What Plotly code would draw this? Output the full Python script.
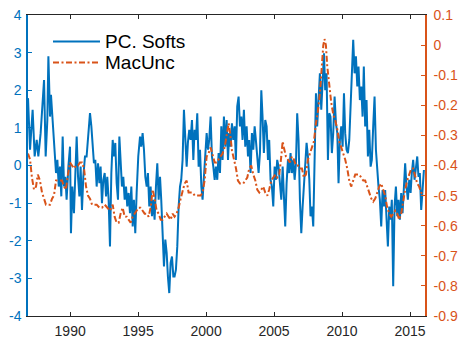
import plotly.graph_objects as go

# ---------------- data ----------------
pc_years = [1986.90, 1987.05, 1987.24, 1987.39, 1987.54, 1987.66, 1987.83, 1987.98, 1988.08, 1988.20,
            1988.32, 1988.40, 1988.52, 1988.59, 1988.69, 1988.76, 1988.86, 1988.96, 1989.06, 1989.16,
            1989.25, 1989.35, 1989.45, 1989.55, 1989.65, 1989.74, 1989.87, 1989.99, 1990.06, 1990.16,
            1990.28, 1990.38, 1990.48, 1990.58, 1990.68, 1990.77, 1990.87, 1990.97, 1991.09, 1991.21,
            1991.34, 1991.46, 1991.56, 1991.66, 1991.75, 1991.85, 1991.95, 1992.05, 1992.15, 1992.24,
            1992.34, 1992.44, 1992.54, 1992.64, 1992.73, 1992.83, 1992.93, 1993.03, 1993.13, 1993.22,
            1993.32, 1993.42, 1993.52, 1993.62, 1993.71, 1993.81, 1993.91, 1994.01, 1994.11, 1994.20,
            1994.30, 1994.40, 1994.50, 1994.60, 1994.69, 1994.79, 1994.89, 1995.01, 1995.14, 1995.23,
            1995.33, 1995.43, 1995.53, 1995.63, 1995.72, 1995.82, 1995.92, 1996.02, 1996.12, 1996.21,
            1996.31, 1996.41, 1996.51, 1996.61, 1996.70, 1996.80, 1996.90, 1997.00, 1997.10, 1997.19,
            1997.29, 1997.39, 1997.49, 1997.59, 1997.68, 1997.78, 1997.88, 1997.98, 1998.08, 1998.17,
            1998.27, 1998.37, 1998.47, 1998.57, 1998.66, 1998.76, 1998.86, 1998.96, 1999.06, 1999.15,
            1999.25, 1999.35, 1999.45, 1999.55, 1999.65, 1999.74, 1999.84, 1999.94, 2000.04, 2000.14,
            2000.23, 2000.33, 2000.43, 2000.53, 2000.63, 2000.72, 2000.82, 2000.92, 2001.02, 2001.12,
            2001.21, 2001.31, 2001.41, 2001.51, 2001.61, 2001.70, 2001.80, 2001.90, 2002.00, 2002.10,
            2002.19, 2002.29, 2002.39, 2002.49, 2002.59, 2002.68, 2002.78, 2002.88, 2002.98, 2003.08,
            2003.17, 2003.27, 2003.37, 2003.47, 2003.57, 2003.66, 2003.76, 2003.86, 2003.96, 2004.06,
            2004.15, 2004.25, 2004.35, 2004.45, 2004.55, 2004.64, 2004.74, 2004.84, 2004.94, 2005.04,
            2005.14, 2005.23, 2005.33, 2005.43, 2005.53, 2005.63, 2005.72, 2005.82, 2005.92, 2006.02,
            2006.12, 2006.21, 2006.31, 2006.41, 2006.51, 2006.61, 2006.70, 2006.80, 2006.90, 2007.00,
            2007.10, 2007.19, 2007.29, 2007.39, 2007.49, 2007.59, 2007.68, 2007.78, 2007.88, 2007.98,
            2008.08, 2008.17, 2008.27, 2008.37, 2008.47, 2008.57, 2008.67, 2008.76, 2008.86, 2008.96,
            2009.06, 2009.15, 2009.25, 2009.35, 2009.45, 2009.55, 2009.65, 2009.74, 2009.84, 2009.94,
            2010.04, 2010.14, 2010.23, 2010.33, 2010.43, 2010.53, 2010.63, 2010.72, 2010.82, 2010.92,
            2011.02, 2011.12, 2011.21, 2011.31, 2011.41, 2011.51, 2011.60, 2011.70, 2011.80, 2011.90,
            2012.00, 2012.10, 2012.19, 2012.29, 2012.39, 2012.49, 2012.59, 2012.68, 2012.78, 2012.88,
            2012.98, 2013.08, 2013.17, 2013.27, 2013.37, 2013.47, 2013.57, 2013.66, 2013.76, 2013.86,
            2013.96, 2014.06, 2014.15, 2014.25, 2014.35, 2014.45, 2014.55, 2014.64, 2014.74, 2014.84,
            2014.94, 2015.04, 2015.13, 2015.23, 2015.33, 2015.43, 2015.53, 2015.62, 2015.72, 2015.82,
            2015.92, 2016.02]
pc_softs = [1.79, 0.42, 1.48, 0.24, 0.68, 0.24, 0.86, 1.74, 2.27, 0.24,
            1.20, 2.90, 1.30, 1.88, 1.30, 0.86, 0.33, -0.20, 0.15, -0.56,
            -0.03, -0.82, 0.77, -0.56, -0.30, -0.91, -0.03, 0.50, -1.80, -0.56,
            -1.27, -0.38, 0.77, -0.30, -0.82, -0.03, -1.18, -0.30, 0.24, 0.24,
            0.86, 1.39, 1.04, 0.33, 0.06, 0.15, -0.56, 0.06, -0.47, -0.03,
            -1.00, -0.38, -0.20, -0.82, -0.30, -0.90, -2.15, -0.20, 0.68, 0.24,
            0.60, -0.47, -0.91, 0.77, -0.03, -0.56, -0.30, -0.91, -0.56, -1.09,
            -0.73, -1.27, -0.56, -1.62, -0.91, -1.80, -0.73, 0.24, 0.77, 0.50,
            0.86, 0.42, -0.30, -0.56, -0.20, -1.09, -0.56, -1.35, -0.91, -1.44,
            -0.56, 0.06, -0.91, -0.30, -0.91, -1.97, -2.68, -1.97, -2.33, -2.95,
            -3.39, -2.59, -2.42, -2.95, -2.95, -2.77, -2.15, -1.09, -0.56, -0.38,
            0.15, 1.48, 0.68, -0.03, 0.60, 0.95, 0.68, 1.21, 0.15, 0.95,
            0.68, 1.39, -0.03, 0.42, -0.56, -0.91, -0.30, 0.33, 0.86, 0.42,
            0.68, 1.30, 0.24, -0.03, -0.38, -0.03, -0.38, 0.33, -0.20, 1.04,
            0.15, 1.30, 0.50, 1.21, 0.15, 0.86, 0.50, 1.12, 0.68, 1.04,
            0.15, 1.57, 1.83, 1.04, 1.30, 0.68, 1.48, 0.50, 1.04, 0.24,
            0.68, -0.20, 0.86, 0.42, 1.04, 0.68, 0.24, -0.20, 0.33, 2.00,
            1.30, 0.33, 1.21, 1.04, 0.15, 0.68, -0.38, -0.56, -1.09, -0.03,
            -0.38, 0.15, -0.03, -0.56, -0.91, -0.03, -0.65, -1.62, -0.47, 0.15,
            -0.20, 0.33, -0.20, 0.15, -0.38, 0.06, 1.39, 0.68, -0.91, -1.80,
            -1.09, -0.56, -0.12, 0.60, 0.24, -0.38, -1.35, -1.09, -1.62, 0.24,
            1.92, 1.04, 1.83, 2.45, 1.48, 2.27, 2.98, 2.00, 2.45, 0.15,
            1.39, 1.30, 0.33, 0.86, 1.83, 1.12, 0.86, -0.47, 0.68, 1.04,
            0.50, 1.92, 0.86, 0.42, 0.33, 0.68, 1.74, 2.72, 3.34, 2.45,
            2.90, 2.10, 2.63, 1.74, 2.10, 1.30, 2.63, 1.04, 1.74, 0.24,
            0.95, -0.03, 0.15, 1.04, 1.83, 0.42, -0.20, -0.56, -0.91, -1.62,
            -0.65, -1.09, -0.65, -1.35, -2.15, -1.09, -1.44, -0.91, -3.21, -1.09,
            -0.56, -1.35, -0.91, -1.44, -0.73, -1.27, -0.56, 0.06, -0.56, -0.91,
            -0.38, -0.73, -0.20, 0.15, -0.38, -0.12, 0.24, -0.30, -0.20, -1.18,
            -0.56, -0.12]

mu_years = [1986.90, 1987.05, 1987.19, 1987.34, 1987.49, 1987.62, 1987.78, 1987.93, 1988.08, 1988.22,
            1988.37, 1988.52, 1988.67, 1988.81, 1988.96, 1989.11, 1989.25, 1989.40, 1989.55, 1989.69,
            1989.84, 1989.99, 1990.14, 1990.28, 1990.43, 1990.58, 1990.72, 1990.87, 1991.02, 1991.17,
            1991.31, 1991.46, 1991.61, 1991.75, 1991.95, 1992.15, 1992.34, 1992.54, 1992.73, 1992.93,
            1993.13, 1993.27, 1993.42, 1993.57, 1993.71, 1993.86, 1994.01, 1994.16, 1994.30, 1994.45,
            1994.60, 1994.74, 1994.89, 1995.04, 1995.18, 1995.33, 1995.48, 1995.63, 1995.77, 1995.92,
            1996.07, 1996.21, 1996.36, 1996.51, 1996.66, 1996.80, 1996.95, 1997.10, 1997.24, 1997.39,
            1997.54, 1997.68, 1997.83, 1997.98, 1998.13, 1998.27, 1998.42, 1998.57, 1998.71, 1998.86,
            1999.01, 1999.16, 1999.30, 1999.45, 1999.60, 1999.74, 1999.89, 2000.04, 2000.18, 2000.33,
            2000.48, 2000.63, 2000.77, 2000.92, 2001.07, 2001.21, 2001.36, 2001.51, 2001.66, 2001.76,
            2001.90, 2002.05, 2002.20, 2002.34, 2002.49, 2002.73, 2002.88, 2003.03, 2003.17, 2003.32,
            2003.47, 2003.62, 2003.76, 2003.91, 2004.06, 2004.20, 2004.35, 2004.50, 2004.64, 2004.79,
            2004.94, 2005.09, 2005.23, 2005.38, 2005.53, 2005.63, 2005.72, 2005.87, 2006.02, 2006.16,
            2006.31, 2006.46, 2006.61, 2006.75, 2006.90, 2007.05, 2007.19, 2007.34, 2007.49, 2007.64,
            2007.78, 2007.93, 2008.08, 2008.22, 2008.37, 2008.52, 2008.62, 2008.71, 2008.81, 2008.91,
            2009.06, 2009.20, 2009.35, 2009.50, 2009.65, 2009.79, 2009.94, 2010.09, 2010.23, 2010.38,
            2010.53, 2010.67, 2010.82, 2010.97, 2011.12, 2011.26, 2011.41, 2011.56, 2011.70, 2011.85,
            2012.00, 2012.15, 2012.29, 2012.44, 2012.59, 2012.73, 2012.88, 2013.03, 2013.17, 2013.32,
            2013.47, 2013.62, 2013.76, 2013.91, 2014.06, 2014.20, 2014.35, 2014.50, 2014.64, 2014.79,
            2014.94, 2015.09, 2015.23, 2015.38, 2015.53, 2015.67, 2015.82, 2016.02]
mac_unc = [-0.36, -0.38, -0.44, -0.48, -0.47, -0.43, -0.45, -0.49, -0.51, -0.53,
           -0.53, -0.53, -0.51, -0.50, -0.45, -0.45, -0.45, -0.45, -0.47, -0.48,
           -0.43, -0.39, -0.40, -0.41, -0.40, -0.40, -0.39, -0.39, -0.41, -0.47,
           -0.50, -0.51, -0.53, -0.53, -0.53, -0.54, -0.54, -0.53, -0.54, -0.55,
           -0.53, -0.57, -0.59, -0.59, -0.56, -0.54, -0.57, -0.57, -0.58, -0.59,
           -0.57, -0.56, -0.55, -0.54, -0.54, -0.55, -0.56, -0.56, -0.57, -0.54,
           -0.48, -0.51, -0.55, -0.56, -0.58, -0.58, -0.57, -0.56, -0.57, -0.58,
           -0.56, -0.57, -0.56, -0.54, -0.51, -0.48, -0.46, -0.45, -0.49, -0.49,
           -0.49, -0.50, -0.50, -0.50, -0.50, -0.49, -0.45, -0.37, -0.36, -0.34,
           -0.37, -0.39, -0.39, -0.38, -0.37, -0.36, -0.34, -0.30, -0.26, -0.29,
           -0.35, -0.38, -0.41, -0.45, -0.46, -0.46, -0.45, -0.44, -0.41, -0.40,
           -0.43, -0.45, -0.48, -0.49, -0.48, -0.47, -0.49, -0.50, -0.48, -0.45,
           -0.44, -0.43, -0.44, -0.43, -0.37, -0.32, -0.34, -0.37, -0.38, -0.39,
           -0.37, -0.38, -0.40, -0.40, -0.41, -0.41, -0.44, -0.43, -0.38, -0.36,
           -0.34, -0.32, -0.26, -0.22, -0.16, -0.07, 0.00, 0.02, 0.00, -0.07,
           -0.14, -0.19, -0.23, -0.25, -0.28, -0.32, -0.34, -0.36, -0.38, -0.41,
           -0.45, -0.47, -0.45, -0.43, -0.43, -0.43, -0.44, -0.45, -0.45, -0.47,
           -0.49, -0.51, -0.52, -0.51, -0.49, -0.47, -0.46, -0.48, -0.50, -0.54,
           -0.56, -0.57, -0.56, -0.55, -0.56, -0.58, -0.56, -0.51, -0.48, -0.45,
           -0.43, -0.41, -0.41, -0.44, -0.46, -0.47, -0.49, -0.50]

x_ticks = [1990, 1995, 2000, 2005, 2010, 2015]
left_ticks = [-4, -3, -2, -1, 0, 1, 2, 3, 4]
right_ticks = [-0.9, -0.8, -0.7, -0.6, -0.5, -0.4, -0.3, -0.2, -0.1, 0.0, 0.1]
right_labels = ["-0.9", "-0.8", "-0.7", "-0.6", "-0.5", "-0.4", "-0.3", "-0.2", "-0.1", "0", "0.1"]
series_names = ["PC. Softs", "MacUnc"]

# ---------------- styling ----------------
BLUE = "#0072BD"
ORANGE = "#D95319"
DARK = "#262626"
FONT = "Liberation Sans, Arial, Helvetica, sans-serif"
DASHDOT = "6px,2.5px,2px,2.5px"

W, H = 463, 340
ML, MR, MT, MB = 28, 38, 15, 24
PW, PH = W - ML - MR, H - MT - MB


def px_to_paper(px, py):
    return (px - ML) / PW, 1 - (py - MT) / PH


fig = go.Figure()
fig.add_trace(go.Scatter(x=mu_years, y=mac_unc, mode="lines", name=series_names[1],
                         line=dict(color=ORANGE, width=2, dash=DASHDOT),
                         yaxis="y2", showlegend=False))
fig.add_trace(go.Scatter(x=pc_years, y=pc_softs, mode="lines", name=series_names[0],
                         line=dict(color=BLUE, width=2), yaxis="y", showlegend=False))

# manual legend (MATLAB style, no box)
legend_rows = [(41.5, BLUE, "solid"), (62.5, ORANGE, DASHDOT)]
for (py, col, dash), name in zip(legend_rows, series_names):
    x0, y0 = px_to_paper(53, py)
    x1, _ = px_to_paper(100, py)
    fig.add_shape(type="line", xref="paper", yref="paper", x0=x0, x1=x1, y0=y0, y1=y0,
                  line=dict(color=col, width=2, dash=dash))
    tx, ty = px_to_paper(104, py)
    fig.add_annotation(xref="paper", yref="paper", x=tx, y=ty, text=name, showarrow=False,
                       xanchor="left", yanchor="middle", borderpad=0,
                       font=dict(family=FONT, size=19, color="#000000"))

fig.update_layout(
    width=W, height=H,
    margin=dict(l=ML, r=MR, t=MT, b=MB, pad=0, autoexpand=False),
    paper_bgcolor="white", plot_bgcolor="white",
    showlegend=False,
    font=dict(family=FONT, size=14, color=DARK),
    xaxis=dict(range=[1986.9, 2016.1], tickvals=x_ticks, ticktext=[str(v) for v in x_ticks],
               ticks="inside", ticklen=4, tickwidth=1, tickcolor=DARK, ticklabelstandoff=2,
               showline=True, linecolor=DARK, linewidth=1.2, mirror="ticks", automargin=False,
               showgrid=False, zeroline=False, tickfont=dict(size=14, color=DARK)),
    yaxis=dict(range=[-4, 4], tickvals=left_ticks, ticktext=[str(v) for v in left_ticks],
               ticks="inside", ticklen=4, tickwidth=1, tickcolor=BLUE, ticklabelstandoff=2,
               showline=True, linecolor=BLUE, linewidth=1.5, automargin=False,
               showgrid=False, zeroline=False, tickfont=dict(size=14, color=BLUE)),
    yaxis2=dict(range=[-0.9, 0.1], overlaying="y", side="right", tickvals=right_ticks,
                ticktext=right_labels, ticks="inside", ticklen=4, tickwidth=1, tickcolor=ORANGE,
                ticklabelstandoff=4, automargin=False,
                showline=True, linecolor=ORANGE, linewidth=1.5,
                showgrid=False, zeroline=False, tickfont=dict(size=14, color=ORANGE)),
    yaxis3=dict(range=[-4, 4], overlaying="y", side="right", tickvals=left_ticks,
                showticklabels=False, ticks="inside", ticklen=4, tickwidth=1, tickcolor=BLUE,
                showline=False, showgrid=False, zeroline=False, automargin=False),
)

fig.write_html("out.html")
